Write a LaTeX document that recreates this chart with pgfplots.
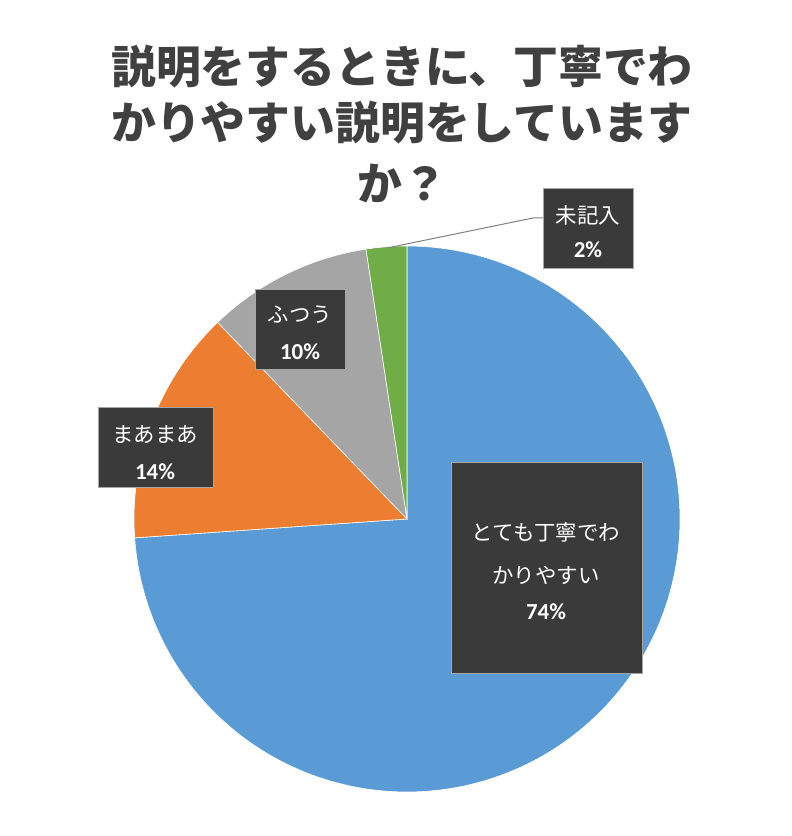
\documentclass[border=0pt]{standalone}
\usepackage{pgfplots}
\pgfplotsset{compat=1.18}
\usepackage{fontspec}
\setmainfont{Carlito}
\newfontfamily\jp{Noto Sans CJK JP}
\definecolor{cblue}{HTML}{5B9BD5}
\definecolor{corange}{HTML}{ED7D31}
\definecolor{cgray}{HTML}{A5A5A5}
\definecolor{cgreen}{HTML}{70AD47}
\definecolor{ctitle}{HTML}{404040}
\definecolor{cbox}{HTML}{3A3A3A}
% data (percent)
\def\vA{73.9}% とても丁寧でわかりやすい
\def\vB{13.9}% まあまあ
\def\vC{9.8}%  ふつう
\def\vD{2.4}%  未記入
\begin{document}
\begin{tikzpicture}
\pgfmathsetmacro\aA{90-3.6*\vA}
\pgfmathsetmacro\aB{\aA-3.6*\vB}
\pgfmathsetmacro\aC{\aB-3.6*\vC}
\pgfmathsetmacro\aD{\aC-3.6*\vD}
\begin{axis}[x=1bp,y=1bp,xmin=0,xmax=792,ymin=0,ymax=836,
  hide axis,scale only axis,clip=false]
\path (axis cs:0,0) rectangle (axis cs:792,836);
\def\cx{407}\def\cy{317}\def\r{273}
\addplot[fill=cblue,draw=white,line width=0.6pt,domain=\aA:90,samples=180]
  ({\cx+\r*cos(x)},{\cy+\r*sin(x)}) -- (axis cs:\cx,\cy) -- cycle;
\addplot[fill=corange,draw=white,line width=0.6pt,domain=\aB:\aA,samples=60]
  ({\cx+\r*cos(x)},{\cy+\r*sin(x)}) -- (axis cs:\cx,\cy) -- cycle;
\addplot[fill=cgray,draw=white,line width=0.6pt,domain=\aC:\aB,samples=50]
  ({\cx+\r*cos(x)},{\cy+\r*sin(x)}) -- (axis cs:\cx,\cy) -- cycle;
\addplot[fill=cgreen,draw=white,line width=0.6pt,domain=\aD:\aC,samples=20]
  ({\cx+\r*cos(x)},{\cy+\r*sin(x)}) -- (axis cs:\cx,\cy) -- cycle;
% leader line
\draw[gray,line width=1pt] (axis cs:387,588) -- (axis cs:533,618) -- (axis cs:543,618);
% title
\begin{scope}[every node/.style={text=ctitle,font=\jp\bfseries\fontsize{45}{50}\selectfont}]
\node at (axis cs:402,769) {説明をするときに、丁寧でわ};
\node at (axis cs:402,713) {かりやすい説明をしています};
\node at (axis cs:402,653) {か？};
\end{scope}
% label boxes
\fill[cbox,draw=gray!70] (axis cs:543,568) rectangle (axis cs:633,648);
\fill[cbox,draw=gray!70] (axis cs:255,467) rectangle (axis cs:345,547);
\fill[cbox,draw=gray!70] (axis cs:98,349) rectangle (axis cs:213,429);
\fill[cbox,draw=gray!70] (axis cs:451,163) rectangle (axis cs:642,374);
\begin{scope}[every node/.style={text=white,font=\jp\fontsize{21.5}{24}\selectfont}]
\node at (axis cs:588,621) {未記入};
\node at (axis cs:300,521) {ふつう};
\node at (axis cs:155,401) {まあまあ};
\node at (axis cs:546,304) {とても丁寧でわ};
\node at (axis cs:546,261) {かりやすい};
\end{scope}
\begin{scope}[every node/.style={text=white,font=\bfseries\fontsize{23}{24}\selectfont}]
\node at (axis cs:588,586) {2\%};
\node at (axis cs:300,484) {10\%};
\node at (axis cs:155,364) {14\%};
\node at (axis cs:546,224) {74\%};
\end{scope}
\end{axis}
\end{tikzpicture}
\end{document}
